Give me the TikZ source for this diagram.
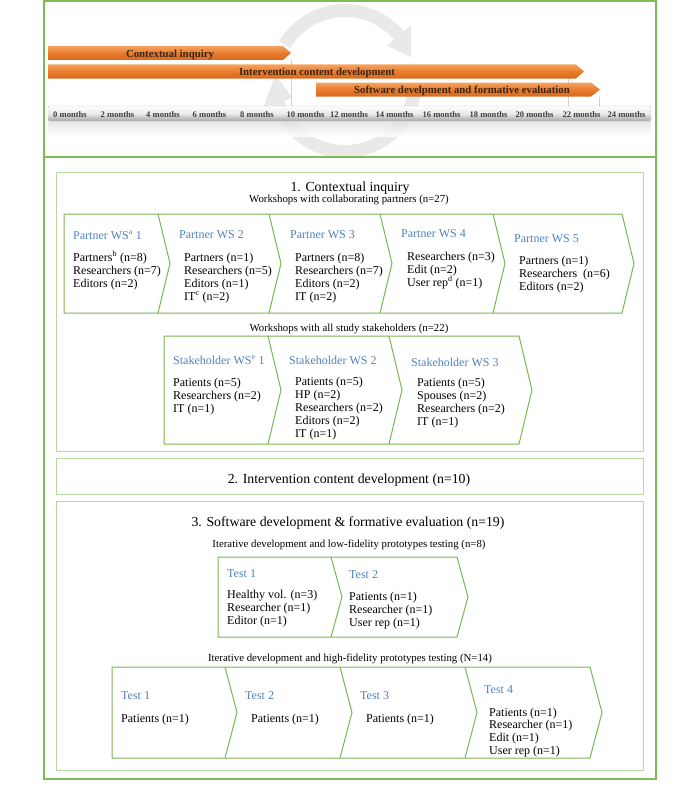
\documentclass[tikz,border=0pt]{standalone}
\usepackage{fontspec}
\setmainfont{Liberation Serif}
\usetikzlibrary{calc}
\definecolor{frameG}{HTML}{80BA58}
\definecolor{boxG}{HTML}{B9D7A0}
\definecolor{chevG}{HTML}{7AB552}
\definecolor{ttlB}{HTML}{4F81BD}
\definecolor{barTop}{HTML}{F5A462}
\definecolor{barMid}{HTML}{E97B2D}
\definecolor{barBot}{HTML}{D8691D}
\definecolor{barTxt}{HTML}{3A2614}
\definecolor{arcG}{HTML}{DADADA}
\tikzset{
 body/.style={anchor=base west, inner sep=0pt, font=\fontsize{12}{13}\selectfont, text=black},
 ttl/.style={anchor=base west, inner sep=0pt, font=\fontsize{12}{13}\selectfont, text=ttlB},
 head/.style={anchor=base, inner sep=0pt, font=\fontsize{13.8}{15}\selectfont},
 sub/.style={anchor=base, inner sep=0pt, font=\fontsize{10.8}{12}\selectfont},
 month/.style={anchor=base, inner sep=0pt, font=\fontsize{8.6}{10}\selectfont\bfseries, text=black!75},
 barlbl/.style={anchor=base, inner sep=0pt, font=\fontsize{10.8}{12}\selectfont\bfseries, text=barTxt},
 secbox/.style={draw=boxG, line width=1pt},
 frameline/.style={draw=frameG, line width=1.3pt},
 chev/.style={draw=chevG, line width=1pt, line join=miter},
 orangebar/.style={top color=barTop, bottom color=barBot, middle color=barMid, draw=none},
 guide/.style={draw=black!18, line width=0.8pt},
 arcband/.style={fill=arcG, fill opacity=0.6},
}
\newcommand\chevrow[6]{%
 \draw[chev] (#4,#1) -- (#6,#1) -- ({#6+#3},{(#1+#2)/2}) -- (#6,#2) -- (#4,#2) -- cycle;
 \foreach \b in {#5} \draw[chev] (\b,#1) -- ({\b+#3},{(#1+#2)/2}) -- (\b,#2);
}
\newcommand\tlines[5]{%
 \foreach \t [count=\i] in {#5} \node[body] (#1\i) at (#2,{#3+#4*(\i-1)}) {\t};
}
\begin{document}
\begin{tikzpicture}[x=1pt,y=-1pt]
\useasboundingbox (0,0) rectangle (700,800);
% ---------- timeline panel ----------
\coordinate (cc) at (345,81);
\path[arcband, shift={(cc)}] (211:77) arc[start angle=211, end angle=320, radius=77]
  -- (320:86) -- (340:70) -- (320:55) -- (320:64)
  arc[start angle=320, end angle=211, radius=64] -- cycle;
\path[arcband, shift={(cc)}] (10:77) arc[start angle=10, end angle=162, radius=77]
  -- (162:86) -- (185:70) -- (162:55) -- (162:64)
  arc[start angle=162, end angle=10, radius=64] -- cycle;
\draw[guide] (291,60) -- (291,106);
\draw[guide] (568,78.5) -- (568,106);
\draw[guide] (599,96.5) -- (599,106);
\path[orangebar] (48,46) -- (283,46) -- (291,53) -- (283,60) -- (48,60) -- cycle;
\path[orangebar] (48,64.5) -- (576,64.5) -- (584,71.5) -- (576,78.5) -- (48,78.5) -- cycle;
\path[orangebar] (316,82.5) -- (591,82.5) -- (600,89.5) -- (591,96.5) -- (316,96.5) -- cycle;
\node[barlbl] (bl1) at (170,57) {Contextual inquiry};
\node[barlbl] (bl2) at (317,75.5) {Intervention content development};
\node[barlbl] (bl3) at (462,93) {Software develpment and formative evaluation};
\path[top color=black!12, bottom color=white, fill opacity=0.8] (48,121.5) rectangle (651,136);
\path[top color=white, bottom color=black!35, middle color=black!8, draw=black!25, rounded corners=1.5pt] (48,106) rectangle (651,121);
\foreach \m/\x [count=\k] in {0/70,2/117.5,4/163,6/209.5,8/257,10/305.5,12/349,14/394.5,16/441.5,18/488.5,20/534.5,22/581.5,24/626.5}
  \node[month] (m\k) at (\x,117.5) {\m{} months};
% ---------- frame ----------
\draw[frameline] (44,1) rectangle (656,779);
\draw[frameline] (44,157) -- (656,157);
% ---------- section 1 ----------
\draw[secbox] (56,172) rectangle (643,451);
\node[head] (h1) at (350,191) {1. Contextual inquiry};
\node[sub] (s1) at (349,202) {Workshops with collaborating partners (n=27)};
\chevrow{214}{313}{12}{64}{158,269,380,493}{622}
\node[ttl] (pt1) at (73,239) {Partner WS\textsuperscript{a} 1};
\node[ttl] (pt2) at (179,238) {Partner WS 2};
\node[ttl] (pt3) at (290,238) {Partner WS 3};
\node[ttl] (pt4) at (401,237) {Partner WS 4};
\node[ttl] (pt5) at (514,242) {Partner WS 5};
\tlines{pa}{73}{261}{13}{Partners\textsuperscript{b} (n=8), Researchers (n=7), Editors (n=2)}
\tlines{pb}{184}{261}{13}{Partners (n=1), Researchers (n=5), Editors (n=1), IT\textsuperscript{c} (n=2)}
\tlines{pc}{295}{261}{13}{Partners (n=8), Researchers (n=7), Editors (n=2), IT (n=2)}
\tlines{pd}{407}{260}{13}{Researchers (n=3), Edit (n=2), User rep\textsuperscript{d} (n=1)}
\tlines{pe}{519}{264}{13}{Partners (n=1), Researchers\ \ (n=6), Editors (n=2)}
\node[sub] (s2) at (349,331) {Workshops with all study stakeholders (n=22)};
\chevrow{336}{444}{13}{164}{268,389}{519}
\node[ttl] (st1) at (173,364) {Stakeholder WS\textsuperscript{e} 1};
\node[ttl] (st2) at (289,364) {Stakeholder WS 2};
\node[ttl] (st3) at (411,366) {Stakeholder WS 3};
\tlines{sa}{173}{386}{13}{Patients (n=5), Researchers (n=2), IT (n=1)}
\tlines{sb}{295}{385}{13}{Patients (n=5), HP (n=2), Researchers (n=2), Editors (n=2), IT (n=1)}
\tlines{sc}{417}{386}{13}{Patients (n=5), Spouses (n=2), Researchers (n=2), IT (n=1)}
% ---------- section 2 ----------
\draw[secbox] (56,458) rectangle (643,494);
\node[head] (h2) at (349,483) {2. Intervention content development (n=10)};
% ---------- section 3 ----------
\draw[secbox] (56,501) rectangle (643,770);
\node[head] (h3) at (348,526) {3. Software development \& formative evaluation (n=19)};
\node[sub] (s3) at (349,547) {Iterative development and low-fidelity prototypes testing (n=8)};
\chevrow{557}{637}{11}{218}{331}{457}
\node[ttl] (lt1) at (227,577) {Test 1};
\node[ttl] (lt2) at (349,578) {Test 2};
\tlines{la}{227}{598}{13.3}{Healthy vol. (n=3), Researcher (n=1), Editor (n=1)}
\tlines{lb}{349}{600}{13.3}{Patients (n=1), Researcher (n=1), User rep (n=1)}
\node[sub] (s4) at (350,661) {Iterative development and high-fidelity prototypes testing (N=14)};
\chevrow{667}{758}{12}{112}{225,340,465}{590}
\node[ttl] (ht1) at (121,699) {Test 1};
\node[ttl] (ht2) at (245,699) {Test 2};
\node[ttl] (ht3) at (360,699) {Test 3};
\node[ttl] (ht4) at (484,693) {Test 4};
\node[body] (ha1) at (121,722) {Patients (n=1)};
\node[body] (hb1) at (251,722) {Patients (n=1)};
\node[body] (hc1) at (366,722) {Patients (n=1)};
\tlines{hd}{489}{716}{12.7}{Patients (n=1), Researcher (n=1), Edit (n=1), User rep (n=1)}
\end{tikzpicture}
\end{document}
